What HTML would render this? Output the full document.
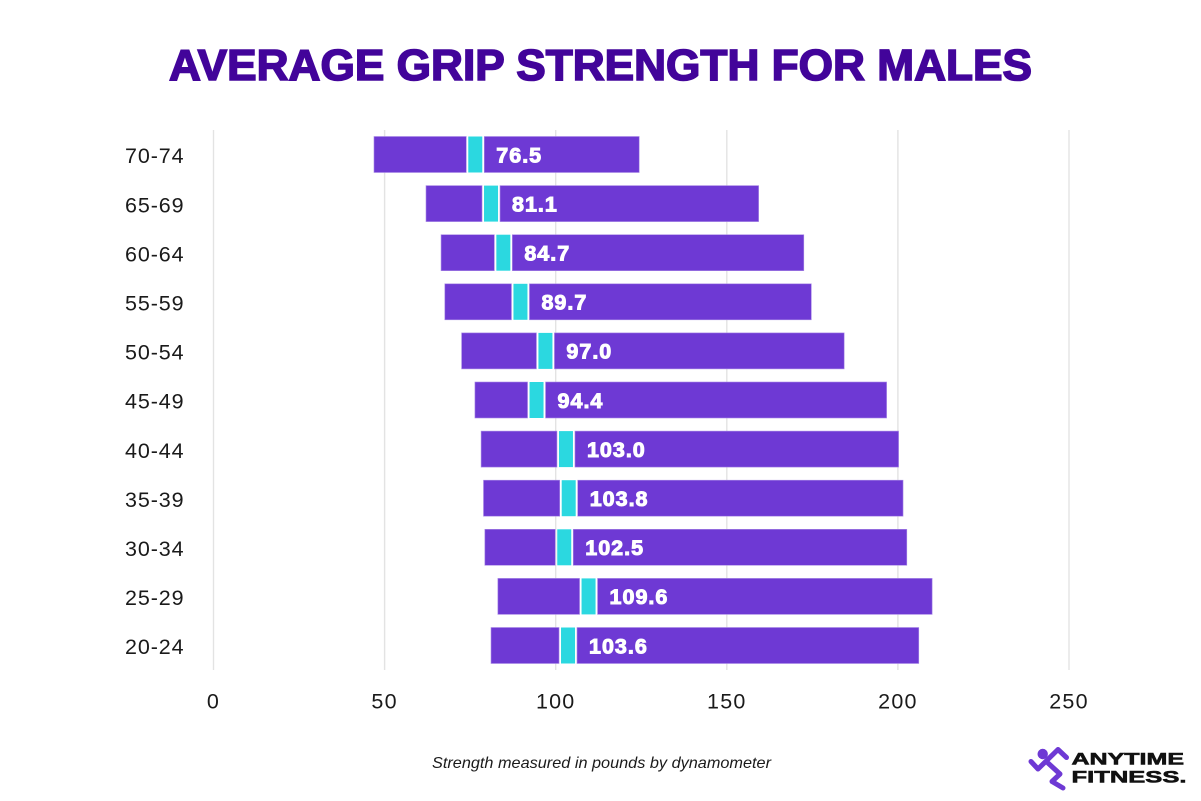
<!DOCTYPE html>
<html lang="en">
<head>
<meta charset="utf-8">
<title>Average Grip Strength for Males</title>
<style>
html,body{margin:0;padding:0;background:#fff;}
svg{display:block;}
text{font-family:"Liberation Sans",sans-serif;}
</style>
</head>
<body>
<svg id="chart" xmlns="http://www.w3.org/2000/svg" width="1201" height="801" viewBox="0 0 1201 801">
  <rect width="1201" height="801" fill="#ffffff"/>
  <text x="169" y="80" font-size="43.5" font-weight="700" fill="#42049a" stroke="#42049a" stroke-width="1.6" stroke-linejoin="miter" textLength="863" lengthAdjust="spacingAndGlyphs">AVERAGE GRIP STRENGTH FOR MALES</text>
  <g id="grid"></g>
  <g id="bars"></g>
  <g id="ylabels"></g>
  <g id="xlabels"></g>
  <text x="432" y="768" font-size="16" font-style="italic" fill="#1a1a1a" textLength="339" lengthAdjust="spacingAndGlyphs">Strength measured in pounds by dynamometer</text>
  <g>
    <circle cx="1042.7" cy="754" r="5.2" fill="#6e39d4"/>
    <polyline points="1031,761.5 1038,769 1058,749.5 1066.5,757.5" fill="none" stroke="#6e39d4" stroke-width="5" stroke-linecap="round" stroke-linejoin="round"/>
    <polyline points="1048,763 1060,774 1052,781.5 1063,788" fill="none" stroke="#6e39d4" stroke-width="5" stroke-linecap="round" stroke-linejoin="round"/>
    <text x="1071.5" y="764.5" font-size="17" font-weight="700" fill="#111" stroke="#111" stroke-width="0.6" textLength="112.5" lengthAdjust="spacingAndGlyphs">ANYTIME</text>
    <text x="1071.5" y="782.5" font-size="17" font-weight="700" fill="#111" stroke="#111" stroke-width="0.6" textLength="115" lengthAdjust="spacingAndGlyphs">FITNESS.</text>
  </g>
</svg>
<script>
const categories = ["70-74","65-69","60-64","55-59","50-54","45-49","40-44","35-39","30-34","25-29","20-24"];
const lowValues = [46.9,62.1,66.5,67.6,72.5,76.4,78.2,78.9,79.3,83.1,81.1];
const averageValues = [76.5,81.1,84.7,89.7,97.0,94.4,103.0,103.8,102.5,109.6,103.6];
const averageLabels = ["76.5","81.1","84.7","89.7","97.0","94.4","103.0","103.8","102.5","109.6","103.6"];
const highValues = [124.4,159.3,172.5,174.7,184.3,196.7,200.2,201.5,202.6,210.0,206.1];
const xTicks = [0,50,100,150,200,250];

const NS = "http://www.w3.org/2000/svg";
const xScale = v => 213.5 + v * 3.422;
const yScale = i => 154.5 + i * 49.1;
const barH = 36, markW = 14, gap = 2;

function make(tag, attrs, parent) {
  const el = document.createElementNS(NS, tag);
  for (const k in attrs) el.setAttribute(k, attrs[k]);
  parent.appendChild(el);
  return el;
}

const grid = document.getElementById("grid");
const xlabels = document.getElementById("xlabels");
xTicks.forEach(t => {
  const line = make("line", {x1:xScale(t), x2:xScale(t), y1:130, y2:670, stroke:"#e3e3e3", "stroke-width":1.4}, grid);
  
  
  const label = make("text", {x:xScale(t), y:708.5, "text-anchor":"middle", "font-size":21.5, "letter-spacing":1.2, fill:"#1a1a1a"}, xlabels);
  
  
  label.textContent = t;
});

const bars = document.getElementById("bars");
const ylabels = document.getElementById("ylabels");
categories.forEach((cat, i) => {
  const cy = yScale(i), top = cy - barH / 2;
  const x0 = xScale(lowValues[i]), xm = xScale(averageValues[i]), x1 = xScale(highValues[i]);
  const mL = xm - markW / 2, mR = xm + markW / 2;

  const left = make("rect", {x:x0, y:top, width:mL - gap - x0, height:barH, fill:"#6e39d4", stroke:"#a98ae6", "stroke-width":0.6}, bars);
  
  

  const mark = make("rect", {x:mL, y:top, width:markW, height:barH, fill:"#2bd8e0"}, bars);
  
  

  const right = make("rect", {x:mR + gap, y:top, width:x1 - mR - gap, height:barH, fill:"#6e39d4", stroke:"#a98ae6", "stroke-width":0.6}, bars);
  
  

  const val = make("text", {x:mR + gap + 12, y:cy + 7.8, "font-size":21.5, "font-weight":700, "letter-spacing":1, fill:"#ffffff", stroke:"#ffffff", "stroke-width":1}, bars);
  
  
  val.textContent = averageLabels[i];

  const yl = make("text", {x:184.5, y:cy + 8.7, "text-anchor":"end", "font-size":21.5, "letter-spacing":0.9, fill:"#1a1a1a"}, ylabels);
  
  
  yl.textContent = cat;
});
</script>
</body>
</html>
